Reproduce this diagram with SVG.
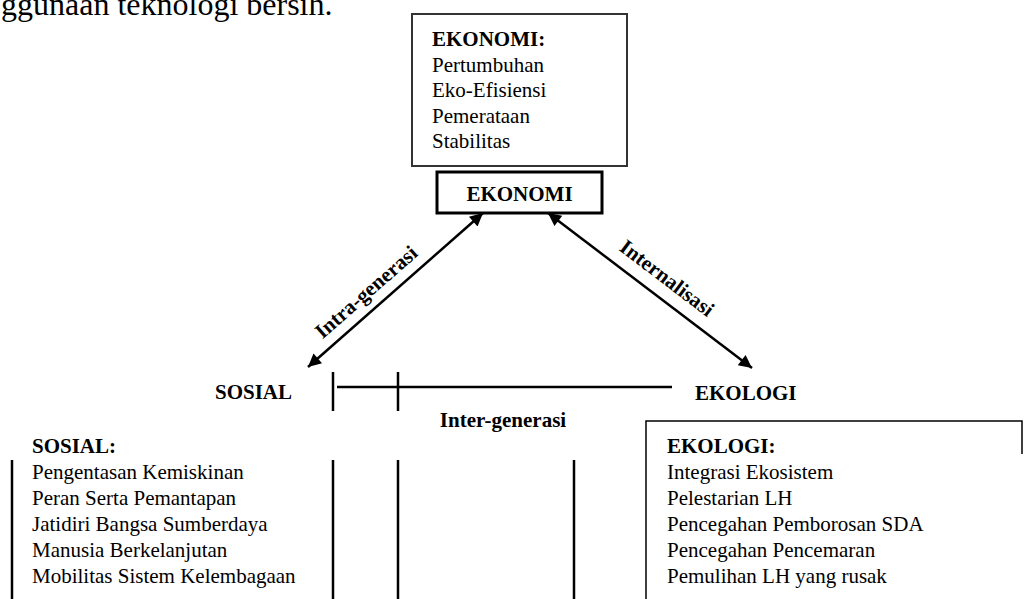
<svg xmlns="http://www.w3.org/2000/svg" width="1026" height="599" viewBox="0 0 1026 599">
<style>
text{font-family:"Liberation Serif","Times New Roman",serif;fill:#000;font-size:21px}
.b{font-weight:bold}
.ln{stroke:#000;stroke-width:2.5;fill:none}
.thin{stroke:#000;stroke-width:1.5;fill:none}
</style>
<defs>
<marker id="ah" viewBox="0 0 10 10" refX="10" refY="5" markerUnits="userSpaceOnUse" markerWidth="17" markerHeight="13" orient="auto-start-reverse">
<path d="M0,0 L10,5 L0,10 z" fill="#000"/>
</marker>
</defs>
<rect width="1026" height="599" fill="#fff"/>
<text x="1" y="14.5" style="font-size:32px">ggunaan teknologi bersih.</text>

<g id="ekonomi-detail">
<rect x="412" y="14" width="215" height="152" fill="#fff" stroke="#333" stroke-width="2"/>
<text x="432" y="46" class="b">EKONOMI:</text>
<text x="432" y="71.5">Pertumbuhan</text>
<text x="432" y="97">Eko-Efisiensi</text>
<text x="432" y="122.5">Pemerataan</text>
<text x="432" y="148">Stabilitas</text>
</g>

<g id="ekonomi">
<rect x="437" y="172" width="165" height="41" fill="#fff" stroke="#000" stroke-width="3"/>
<text x="519.5" y="201" class="b" text-anchor="middle">EKONOMI</text>
</g>

<g id="sosial">
<text x="215" y="399" class="b">SOSIAL</text>
</g>

<g id="ekologi">
<text x="695" y="400" class="b">EKOLOGI</text>
</g>

<g id="sosial-detail">
<text x="32" y="453" class="b">SOSIAL:</text>
<text x="32" y="479">Pengentasan Kemiskinan</text>
<text x="32" y="505">Peran Serta Pemantapan</text>
<text x="32" y="531">Jatidiri Bangsa Sumberdaya</text>
<text x="32" y="557">Manusia Berkelanjutan</text>
<text x="32" y="583">Mobilitas Sistem Kelembagaan</text>
</g>

<g id="ekologi-detail">
<path class="thin" d="M646,599 V421 H1022 V454"/>
<text x="667" y="453" class="b">EKOLOGI:</text>
<text x="667" y="479">Integrasi Ekosistem</text>
<text x="667" y="505">Pelestarian LH</text>
<text x="667" y="531">Pencegahan Pemborosan SDA</text>
<text x="667" y="557">Pencegahan Pencemaran</text>
<text x="667" y="583">Pemulihan LH yang rusak</text>
</g>

<g id="connectors">
<line class="ln" x1="483" y1="213" x2="308" y2="367" marker-start="url(#ah)" marker-end="url(#ah)"/>
<line class="ln" x1="548" y1="213" x2="752" y2="368" marker-start="url(#ah)" marker-end="url(#ah)"/>
<line class="ln" x1="337" y1="387" x2="672" y2="387"/>
<line class="ln" x1="333" y1="372" x2="333" y2="411"/>
<line class="ln" x1="398" y1="372" x2="398" y2="411"/>
<line class="ln" x1="12" y1="460" x2="12" y2="599"/>
<line class="ln" x1="333" y1="460" x2="333" y2="599"/>
<line class="ln" x1="398" y1="460" x2="398" y2="599"/>
<line class="ln" x1="574" y1="460" x2="574" y2="599"/>
<text class="b" text-anchor="middle" transform="translate(366,292) rotate(-41.3)" y="7">Intra-generasi</text>
<text class="b" text-anchor="middle" transform="translate(667,278) rotate(37.2)" y="7">Internalisasi</text>
<text x="503" y="427" class="b" text-anchor="middle">Inter-generasi</text>
</g>
</svg>
